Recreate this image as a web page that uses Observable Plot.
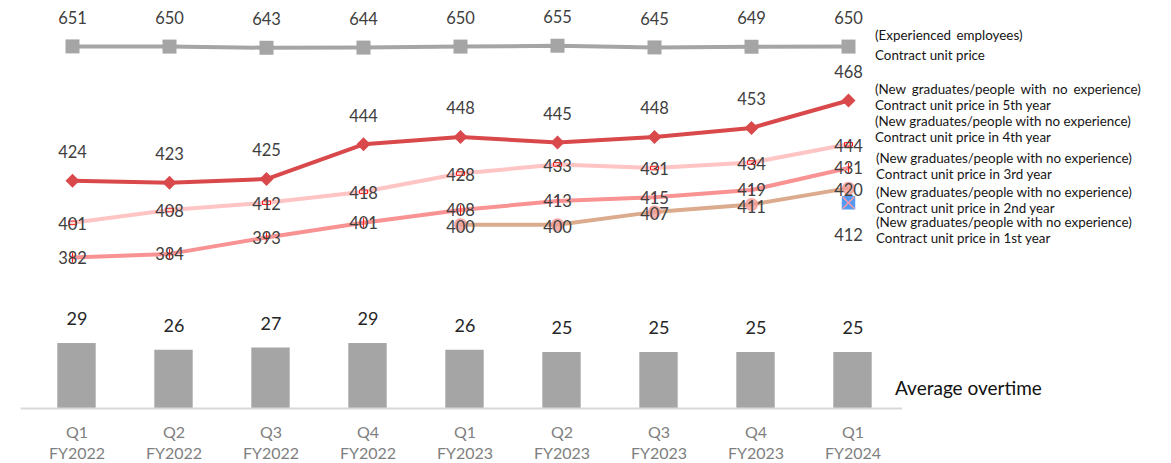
<!DOCTYPE html>
<html>
<head>
<meta charset="utf-8">
<script src="https://cdn.jsdelivr.net/npm/d3@7"></script>
<script src="https://cdn.jsdelivr.net/npm/@observablehq/plot@0.6"></script>
<style>
  html, body { margin: 0; padding: 0; background: #ffffff; }
  #chart { position: relative; width: 1171px; height: 463px; overflow: hidden; font-family: Lato, "Open Sans", sans-serif; }
  .lg { position: absolute; font-family: Lato, sans-serif; font-size: 13.4px; line-height: 16px; color: #151515; white-space: nowrap; }
  .big { position: absolute; font-family: Lato, sans-serif; font-size: 19px; line-height: 22px; color: #111; white-space: nowrap; }
</style>
</head>
<body>
<div id="chart"></div>
<script>
// ---- data ----
const quarters = ["Q1", "Q2", "Q3", "Q4", "Q1", "Q2", "Q3", "Q4", "Q1"];
const fiscalYears = ["FY2022", "FY2022", "FY2022", "FY2022", "FY2023", "FY2023", "FY2023", "FY2023", "FY2024"];
const experienced = [651, 650, 643, 644, 650, 655, 645, 649, 650];
const year5 = [424, 423, 425, 444, 448, 445, 448, 453, 468];
const year4 = [401, 408, 412, 418, 428, 433, 431, 434, 444];
const year3 = [382, 384, 393, 401, 408, 413, 415, 419, 431];
const year2 = [null, null, null, null, 400, 400, 407, 411, 420];
const year1 = [null, null, null, null, null, null, null, null, 412];
const overtime = [29, 26, 27, 29, 26, 25, 25, 25, 25];
const legendLines = [
  ["(Experienced employees)", "Contract unit price"],
  ["(New graduates/people with no experience)", " Contract unit price in 5th year"],
  ["(New graduates/people with no experience)", "Contract unit price in 4th year"],
  ["(New graduates/people with no experience)", "Contract unit price in 3rd year"],
  ["(New graduates/people with no experience)", "Contract unit price in 2nd year"],
  ["(New graduates/people with no experience)", " Contract unit price in 1st year"]
];
const overtimeLabel = "Average overtime";

// ---- helpers ----
const cats = quarters.map((q, i) => `${q}\n${fiscalYears[i]}`);
const rows = arr => arr.map((v, i) => ({cat: cats[i], v})).filter(d => d.v != null);
const W = 1171;
const FONT = "Lato, 'Open Sans', sans-serif";
const labelColor = "#404040";
const chart = document.getElementById("chart");
const baseStyle = top => ({position: "absolute", left: "0px", top: top + "px", background: "transparent", fontFamily: FONT, overflow: "visible"});

const lineX = {type: "point", domain: cats, padding: 0.5, axis: null};
const lineMargins = {marginLeft: 20.5, marginRight: W - 898.6};

// custom marker symbols
const smallRect = {draw(ctx, size) { const s = Math.sqrt(size / Math.PI); ctx.rect(-s, -s * 0.45, 2 * s, s * 0.9); }};
const vTick = {draw(ctx, size) { const s = Math.sqrt(size / Math.PI); ctx.moveTo(0, -s); ctx.lineTo(0, s); }};

// ---- experienced employees (own scale) ----
const dExp = rows(experienced);
const expPlot = Plot.plot({
  width: W, height: 157, ...lineMargins, marginTop: 0, marginBottom: 0,
  x: lineX,
  y: {domain: [0, 920], axis: null},
  style: baseStyle(0),
  marks: [
    Plot.line(dExp, {x: "cat", y: "v", stroke: "#a5a5a5", strokeWidth: 4}),
    Plot.dot(dExp, {x: "cat", y: "v", symbol: "square", r: 7.9, fill: "#a5a5a5", stroke: null}),
    Plot.text(dExp, {x: "cat", y: "v", text: d => String(d.v), dy: -28, fontSize: 16.5, fill: labelColor, fontFamily: FONT})
  ]
});
chart.appendChild(expPlot);

// ---- new graduates (own scale) ----
const d5 = rows(year5), d4 = rows(year4), d3r = rows(year3), d2 = rows(year2), d1 = rows(year1);
const gradPlot = Plot.plot({
  width: W, height: 240, ...lineMargins, marginTop: 18.1, marginBottom: 2.8,
  x: lineX,
  y: {domain: [360, 480], axis: null},
  style: baseStyle(60),
  marks: [
    Plot.line(d4, {x: "cat", y: "v", stroke: "#ffc4c4", strokeWidth: 4}),
    Plot.line(d3r, {x: "cat", y: "v", stroke: "#f99292", strokeWidth: 4}),
    Plot.line(d2, {x: "cat", y: "v", stroke: "#dcab8d", strokeWidth: 4}),
    Plot.line(d5, {x: "cat", y: "v", stroke: "#d9484a", strokeWidth: 4}),
    Plot.dot(d5, {x: "cat", y: "v", symbol: "square", rotate: 45, r: 5.6, fill: "#d9484a", stroke: null}),
    Plot.dot(d4, {x: "cat", y: "v", symbol: smallRect, r: 4, fill: "#ffd6d6", stroke: "#ff1a1a", strokeWidth: 1}),
    Plot.dot(d3r, {x: "cat", y: "v", symbol: vTick, r: 5, fill: "none", stroke: "#ff2020", strokeWidth: 1.2}),
    Plot.dot(d2, {x: "cat", y: "v", r: 6, fill: "#f3a09a", fillOpacity: 0.8, stroke: "#f58a8a", strokeOpacity: 0.5}),
    Plot.dot(d1, {x: "cat", y: "v", symbol: "square", r: 7.6, fill: "#559af0", stroke: null}),
    Plot.dot(d1, {x: "cat", y: "v", symbol: "times", r: 5.5, stroke: "#ff9aa6", strokeWidth: 1.3}),
    Plot.text(d5, {x: "cat", y: "v", text: d => String(d.v), dy: -28, fontSize: 16.5, fill: labelColor, fontFamily: FONT}),
    Plot.text(d4, {x: "cat", y: "v", text: d => String(d.v), dy: 2, fontSize: 16.5, fill: labelColor, fontFamily: FONT}),
    Plot.text(d3r, {x: "cat", y: "v", text: d => String(d.v), dy: 1, fontSize: 16.5, fill: labelColor, fontFamily: FONT}),
    Plot.text(d2, {x: "cat", y: "v", text: d => String(d.v), dy: 3, fontSize: 16.5, fill: labelColor, fontFamily: FONT}),
    Plot.text(d1, {x: "cat", y: "v", text: d => String(d.v), dy: 33, fontSize: 16.5, fill: labelColor, fontFamily: FONT})
  ]
});
chart.appendChild(gradPlot);

// ---- average overtime bars ----
const dOver = rows(overtime);
const barPlot = Plot.plot({
  width: W, height: 183, marginLeft: 25.7, marginRight: W - 904.1, marginTop: 16, marginBottom: 55,
  x: {type: "band", domain: cats, padding: 0, axis: null},
  y: {domain: [0, 50], axis: null},
  style: baseStyle(280),
  marks: [
    Plot.barY(dOver, {x: "cat", y: "v", fill: "#a5a5a5", insetLeft: 29.3, insetRight: 29.3}),
    Plot.ruleY([0], {stroke: "#d9d9d9", strokeWidth: 2, insetLeft: -5, insetRight: 2}),
    Plot.text(dOver, {x: "cat", y: "v", text: d => String(d.v), dy: -24, fontSize: 18, fill: "#262626", fontFamily: FONT}),
    Plot.axisX({tickSize: 0, tickPadding: 14, fontSize: 16, lineHeight: 1.35, color: "#7f7f7f", fontFamily: FONT, label: null})
  ]
});
chart.appendChild(barPlot);

// ---- right-side legend texts ----
const legendTops = [[35, 55], [89, 105], [121, 137], [158, 174], [192, 208], [222, 238]];
const legendLefts = [[875, 875], [875, 875], [875, 875], [876, 876], [876, 876], [876, 876]];
legendLines.forEach((pair, i) => {
  pair.forEach((t, j) => {
    const el = document.createElement("div");
    el.className = "lg";
    el.textContent = t;
    el.style.left = legendLefts[i][j] + "px";
    el.style.top = (legendTops[i][j] - 8) + "px";
    if (i === 1 && j === 0) el.style.wordSpacing = "2.5px";
    if (i === 0 && j === 0) el.style.wordSpacing = "2px";
    chart.appendChild(el);
  });
});
const ot = document.createElement("div");
ot.className = "big";
ot.textContent = overtimeLabel;
ot.style.left = "895px";
ot.style.top = (388 - 11) + "px";
chart.appendChild(ot);
</script>
</body>
</html>
